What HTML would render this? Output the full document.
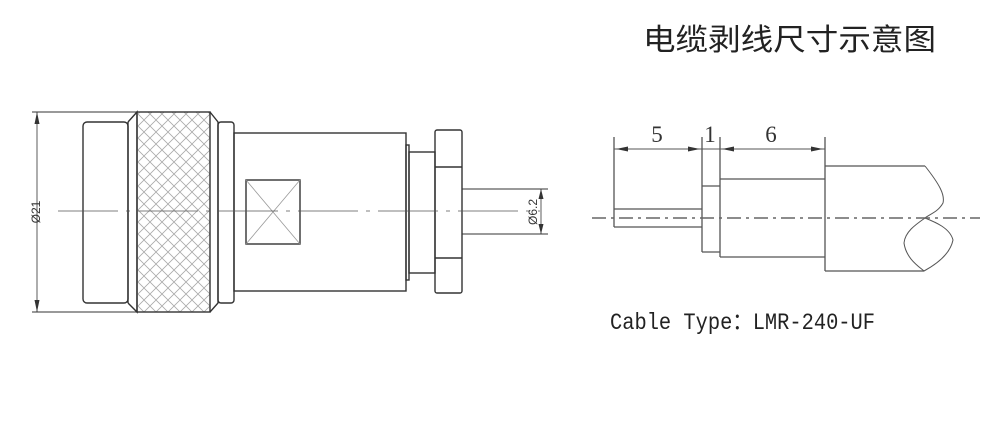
<!DOCTYPE html>
<html><head><meta charset="utf-8"><style>
html,body{margin:0;padding:0;background:#fff;}
svg{display:block}
</style></head><body>
<svg width="1000" height="423" viewBox="0 0 1000 423" xmlns="http://www.w3.org/2000/svg">
<defs>
<pattern id="kn" width="12" height="12" patternUnits="userSpaceOnUse">
<path d="M0 0 L12 12 M12 0 L0 12" stroke="#aaa" stroke-width="0.8"/>
</pattern>
</defs>
<text x="643" y="50" font-family="'Liberation Sans','Noto Sans CJK SC',sans-serif" font-size="30" fill="#222" textLength="293" lengthAdjust="spacingAndGlyphs">电缆剥线尺寸示意图</text>

<g stroke="#333" stroke-width="1.4" fill="none">
<line x1="32" y1="112" x2="140" y2="112" stroke-width="1"/>
<line x1="32" y1="312" x2="140" y2="312" stroke-width="1"/>
<line x1="37" y1="112" x2="37" y2="312" stroke-width="0.8"/>
<rect x="83" y="122" width="45" height="181" rx="4"/>
<line x1="128" y1="122" x2="128" y2="303"/>
<polyline points="128,122 137,112 137,312 128,303"/>
<rect x="137" y="112" width="73" height="200" fill="url(#kn)"/>
<polyline points="210,112 218,122 218,303 210,312"/>
<rect x="218" y="122" width="16" height="181" rx="3"/>
<rect x="234" y="133" width="172" height="158"/>
<rect x="406" y="145" width="3" height="135"/>
<rect x="409" y="152" width="26" height="121"/>
<rect x="435" y="130" width="27" height="163" rx="2"/>
<line x1="435" y1="167" x2="462" y2="167"/>
<line x1="435" y1="258" x2="462" y2="258"/>
<line x1="462" y1="189" x2="548" y2="189" stroke-width="1"/>
<line x1="462" y1="234" x2="548" y2="234" stroke-width="1"/>
<line x1="541" y1="189" x2="541" y2="234" stroke-width="0.8"/>
<rect x="246" y="180" width="54" height="64"/>
<line x1="246" y1="180" x2="300" y2="244" stroke="#999" stroke-width="0.8"/>
<line x1="300" y1="180" x2="246" y2="244" stroke="#999" stroke-width="0.8"/>
<line x1="58" y1="211" x2="540" y2="211" stroke="#555" stroke-width="0.8" stroke-dasharray="60,8,4,8"/>
</g>
<path d="M37 112 l-2.5 12 h5z M37 312 l-2.5 -12 h5z M541 189 l-2.5 10 h5z M541 234 l-2.5 -10 h5z" fill="#333"/>
<text transform="translate(40,212) rotate(-90)" text-anchor="middle" font-family="'Liberation Sans',sans-serif" font-size="12" fill="#333">Ø21</text>
<text transform="translate(537,212) rotate(-90)" text-anchor="middle" font-family="'Liberation Sans',sans-serif" font-size="12" fill="#333">Ø6.2</text>

<g stroke="#555" stroke-width="1.3" fill="none">
<line x1="614" y1="137" x2="614" y2="227"/>
<line x1="702" y1="137" x2="702" y2="252"/>
<line x1="720" y1="137" x2="720" y2="257"/>
<line x1="825" y1="137" x2="825" y2="271"/>
<line x1="614" y1="149" x2="825" y2="149" stroke-width="1"/>
<line x1="614" y1="209" x2="702" y2="209"/>
<line x1="614" y1="227" x2="702" y2="227"/>
<line x1="702" y1="186" x2="720" y2="186"/>
<line x1="702" y1="252" x2="720" y2="252"/>
<line x1="720" y1="179" x2="825" y2="179"/>
<line x1="720" y1="257" x2="825" y2="257"/>
<line x1="825" y1="166" x2="925" y2="166"/>
<line x1="825" y1="271" x2="924" y2="271"/>
<path d="M925 166 C940 185,945 195,943 203 C938 212,930 214,925 218 C915 225,905 232,904 243 C906 258,918 266,924 271 C935 265,950 255,953 240 C950 228,935 222,925 218" stroke-width="1"/>
<line x1="592" y1="218" x2="980" y2="218" stroke="#666" stroke-width="1.4" stroke-dasharray="14,5,3,5"/>
</g>
<path d="M616 149 l12 -2.5 v5z M700 149 l-12 -2.5 v5z M722 149 l12 -2.5 v5z M823 149 l-12 -2.5 v5z" fill="#333"/>
<g font-family="'Liberation Serif',serif" font-size="23" fill="#333" text-anchor="middle">
<text x="657" y="142">5</text><text x="710" y="142">1</text><text x="771" y="142">6</text>
</g>
<text x="610" y="329" font-family="'Liberation Mono','Noto Sans CJK SC',monospace" font-size="23" fill="#222" textLength="265" lengthAdjust="spacingAndGlyphs">Cable Type：LMR-240-UF</text>
</svg>
</body></html>
